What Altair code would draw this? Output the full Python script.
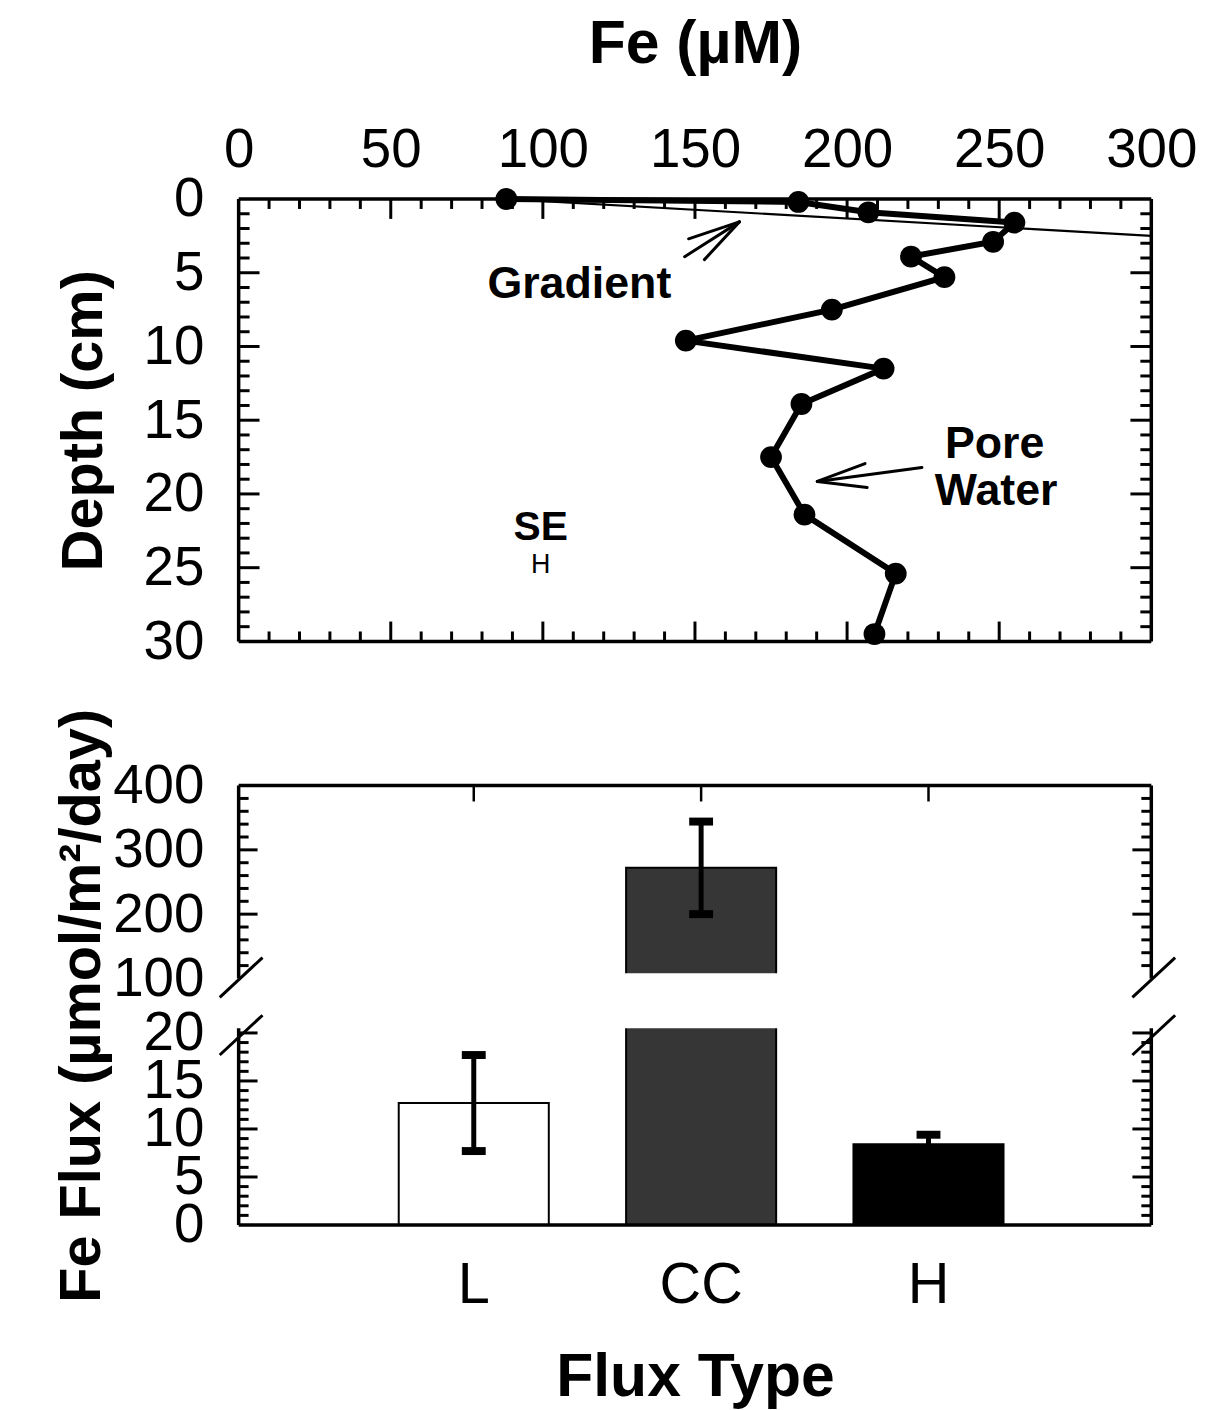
import altair as alt
import pandas as pd

FONT = "Liberation Sans"

# ---------------- Pore-water Fe profile ----------------
fe_um = [88, 184, 207, 255, 248, 221, 232, 195, 147, 212, 185, 175, 186, 216, 209]
depth_cm = [0.0, 0.2, 0.9, 1.6, 2.9, 3.9, 5.3, 7.5, 9.6, 11.5, 13.9, 17.5, 21.4, 25.4, 29.5]

# gradient line
gradient_fe = [88, 300]
gradient_depth = [0.0, 2.5]

# annotations
label_text = ["Gradient", "Pore", "Water"]
label_fe = [112.0, 248.5, 249.0]
label_depth = [5.8, 16.6, 19.8]
se_text = ["SE"]
se_fe = [99.3]
se_depth = [22.3]
sub_text = ["H"]
sub_fe = [99.3]
sub_depth = [24.8]

# arrow segments (Fe, depth): start -> end
arrow_fe1 = [146.6, 147.9, 153.1, 224.6, 205.9, 206.6]
arrow_d1 = [3.91, 2.70, 4.11, 18.2, 17.94, 19.56]
arrow_fe2 = [164.6, 164.6, 164.6, 190.2, 190.2, 190.2]
arrow_d2 = [1.55, 1.55, 1.55, 19.15, 19.15, 19.15]

# axis tick values
fe_labels = [0, 50, 100, 150, 200, 250, 300]
fe_major = [50, 100, 150, 200, 250]
fe_minor = [v for v in range(10, 300, 10) if v % 50]
depth_labels = [0, 5, 10, 15, 20, 25, 30]
depth_major = [5, 10, 15, 20, 25]
depth_minor = [d for d in range(1, 30) if d % 5]

# ---------------- Flux bars (broken axis) ----------------
flux_types = ["L", "CC", "H"]
flux_mean = [12.7, 272.0, 8.4]
flux_err = [5.0, 72.0, 1.0]
flux_fill = ["#ffffff", "#363636", "#000000"]

flux_labels = [0, 5, 10, 15, 20, 100, 200, 300, 400]
flux_major = [5, 10, 15, 20, 200, 300]
flux_minor = [v for v in range(1, 20) if v % 5] + [v for v in range(120, 400, 20) if v % 100]
# axis break: lower segment 0-20.5, upper segment 100-400
seg_lo = [0, 100]
seg_hi = [20.5, 400]
gap_lo = [20.5]
gap_hi = [108]

W = 918
H_TOP = 445
H_LO_PX = 198
GAP_PX = 50
H_UP_PX = 194
H_BAR = H_LO_PX + GAP_PX + H_UP_PX
LW = 3.5

one = alt.Data(values=[{}])


def hrule_pts(x1, x2, y):
    return alt.Chart(one).mark_rule(color="black", strokeWidth=LW).encode(
        x=alt.value(x1), x2=alt.value(x2), y=alt.value(y))


def vrule_pts(x, y1, y2, sw=LW):
    return alt.Chart(one).mark_rule(color="black", strokeWidth=sw).encode(
        x=alt.value(x), y=alt.value(y1), y2=alt.value(y2))


def seg(x1, y1, x2, y2):
    return alt.Chart(one).mark_rule(color="black", strokeWidth=3).encode(
        x=alt.value(x1), y=alt.value(y1), x2=alt.value(x2), y2=alt.value(y2))


def xticks(vals, scale, y0, y1):
    return alt.Chart(pd.DataFrame({"v": vals})).mark_rule(color="black", strokeWidth=3).encode(
        x=alt.X("v:Q", scale=scale), y=alt.value(y0), y2=alt.value(y1))


def yticks(vals, scale, x0, x1):
    return alt.Chart(pd.DataFrame({"v": vals})).mark_rule(color="black", strokeWidth=3).encode(
        y=alt.Y("v:Q", scale=scale), x=alt.value(x0), x2=alt.value(x1))


common_axis = dict(ticks=False, tickSize=0, domain=False, grid=False, labelFont=FONT,
                   labelColor="black", labelOverlap=False, labelFlush=False,
                   labelBound=False, titleFont=FONT, titleFontWeight="bold",
                   titleColor="black")

# ---------------- top panel ----------------
xs = alt.Scale(domain=[0, 300], nice=False, zero=False)
ys = alt.Scale(domain=[0, 30], reverse=True, nice=False, zero=False)

prof = pd.DataFrame({"fe": fe_um, "depth": depth_cm, "k": list(range(len(fe_um)))})
grad = pd.DataFrame({"fe": gradient_fe, "depth": gradient_depth})
labs = pd.DataFrame({"fe": label_fe, "depth": label_depth, "t": label_text})
ses = pd.DataFrame({"fe": se_fe, "depth": se_depth, "t": se_text})
subs = pd.DataFrame({"fe": sub_fe, "depth": sub_depth, "t": sub_text})
arrows = pd.DataFrame({"fe": arrow_fe1, "depth": arrow_d1, "fe2": arrow_fe2, "depth2": arrow_d2})

x_top = alt.X("fe:Q", scale=xs, axis=alt.Axis(
    orient="top", values=fe_labels, labelFontSize=55, labelPadding=21,
    title="Fe (µM)", titleFontSize=61, titlePadding=47, **common_axis))
y_top = alt.Y("depth:Q", scale=ys, axis=alt.Axis(
    orient="left", values=depth_labels, labelFontSize=55, labelPadding=35,
    title="Depth (cm)", titleFontSize=58, titlePadding=30, **common_axis))

xq = alt.X("fe:Q", scale=xs)
yq = alt.Y("depth:Q", scale=ys)

line = alt.Chart(prof).mark_line(color="black", strokeWidth=6).encode(
    x=x_top, y=y_top, order="k:Q")
pts = alt.Chart(prof).mark_circle(color="black", opacity=1, size=480).encode(x=xq, y=yq)
gline = alt.Chart(grad).mark_line(color="black", strokeWidth=2.2, clip=True).encode(x=xq, y=yq)
arr = alt.Chart(arrows).mark_rule(color="black", strokeWidth=3, strokeCap="round").encode(
    x=xq, y=yq, x2="fe2:Q", y2="depth2:Q")
txt = alt.Chart(labs).mark_text(font=FONT, fontSize=45, fontWeight="bold", color="black",
                                baseline="middle", align="center").encode(
    x=xq, y=yq, text="t:N")
txt_se = alt.Chart(ses).mark_text(font=FONT, fontSize=41, fontWeight="bold", color="black",
                                  baseline="middle", align="center").encode(
    x=xq, y=yq, text="t:N")
txt2 = alt.Chart(subs).mark_text(font=FONT, fontSize=27, color="black",
                                 baseline="middle", align="center").encode(
    x=xq, y=yq, text="t:N")

top_layers = [
    line, gline, pts, arr, txt, txt_se, txt2,
    xticks(fe_minor, xs, 0, 10), xticks(fe_major, xs, 0, 20),
    xticks(fe_minor, xs, H_TOP, H_TOP - 10), xticks(fe_major, xs, H_TOP, H_TOP - 20),
    yticks(depth_minor, ys, 0, 11), yticks(depth_major, ys, 0, 21),
    yticks(depth_minor, ys, W, W - 11), yticks(depth_major, ys, W, W - 21),
    hrule_pts(0, W, 0), hrule_pts(0, W, H_TOP), vrule_pts(0, 0, H_TOP), vrule_pts(W, 0, H_TOP),
]
top = alt.layer(*top_layers).properties(width=W, height=H_TOP)

# ---------------- bar panel with broken y axis ----------------
bars = pd.DataFrame({
    "type": flux_types,
    "flux": flux_mean,
    "lo": [m - e for m, e in zip(flux_mean, flux_err)],
    "hi": [m + e for m, e in zip(flux_mean, flux_err)],
    "base": [0.0] * 3,
    "fill": flux_fill,
})
xband = alt.Scale(domain=flux_types, paddingInner=0.34, paddingOuter=0.677, align=0.52)
yb = alt.Scale(domain=[0, 20.5, 100, 400],
               range=[H_BAR, H_BAR - H_LO_PX, H_UP_PX, 0], nice=False, zero=False)

xb_axis = alt.Axis(orient="bottom", labelFontSize=58, labelPadding=32, labelAngle=0,
                   title="Flux Type", titleFontSize=61, titlePadding=34, **common_axis)
yb_axis = alt.Axis(orient="left", values=flux_labels, labelFontSize=55, labelPadding=35,
                   title="Fe Flux (µmol/m²/day)", titleFontSize=58, titlePadding=1,
                   **common_axis)

xcat = alt.X("type:N", scale=xband, sort=flux_types)
xcat_mid = alt.X("type:N", scale=xband, sort=flux_types, bandPosition=0.5)

b = alt.Chart(bars).mark_bar(stroke="black", strokeWidth=2).encode(
    x=alt.X("type:N", scale=xband, sort=flux_types, axis=xb_axis),
    y=alt.Y("flux:Q", scale=yb, axis=yb_axis),
    y2="base:Q",
    fill=alt.Fill("fill:N", scale=None))
eb = alt.Chart(bars).mark_rule(color="black", strokeWidth=5).encode(
    x=xcat_mid, y=alt.Y("lo:Q", scale=yb), y2="hi:Q")
cap_hi = alt.Chart(bars).mark_tick(color="black", thickness=8, size=24, opacity=1).encode(
    x=xcat, y=alt.Y("hi:Q", scale=yb))
cap_lo = alt.Chart(bars).mark_tick(color="black", thickness=8, size=24, opacity=1).encode(
    x=xcat, y=alt.Y("lo:Q", scale=yb))
gap = alt.Chart(pd.DataFrame({"g1": gap_lo, "g2": gap_hi})).mark_rect(color="white").encode(
    x=alt.value(-3), x2=alt.value(W + 3),
    y=alt.Y("g1:Q", scale=yb), y2="g2:Q")
segs = pd.DataFrame({"a": seg_lo, "b": seg_hi})
left_frame = alt.Chart(segs).mark_rule(color="black", strokeWidth=LW).encode(
    x=alt.value(0), y=alt.Y("a:Q", scale=yb), y2="b:Q")
right_frame = alt.Chart(segs).mark_rule(color="black", strokeWidth=LW).encode(
    x=alt.value(W), y=alt.Y("a:Q", scale=yb), y2="b:Q")
cat_ticks = alt.Chart(bars).mark_rule(color="black", strokeWidth=2.5).encode(
    x=xcat_mid, y=alt.value(0), y2=alt.value(16))

bar_layers = [
    b, eb, cap_hi, cap_lo, gap,
    yticks(flux_minor, yb, 0, 10), yticks(flux_major, yb, 0, 19),
    yticks(flux_minor, yb, W, W - 10), yticks(flux_major, yb, W, W - 19),
    left_frame, right_frame, hrule_pts(0, W, 0), hrule_pts(0, W, H_BAR), cat_ticks,
    seg(-19, H_UP_PX + 19, 24, H_UP_PX - 21),
    seg(W - 19, H_UP_PX + 19, W + 24, H_UP_PX - 21),
    seg(-19, H_UP_PX + GAP_PX + 27, 24, H_UP_PX + GAP_PX - 13),
    seg(W - 19, H_UP_PX + GAP_PX + 27, W + 24, H_UP_PX + GAP_PX - 13),
]
bottom = alt.layer(*bar_layers).properties(width=W, height=H_BAR)

chart = alt.vconcat(top, bottom, spacing=39).properties(
    padding={"left": 46, "top": 2, "right": 5, "bottom": 5}
).configure_view(stroke=None)

chart.save("out.html", embed_options={"renderer": "svg", "actions": False})
